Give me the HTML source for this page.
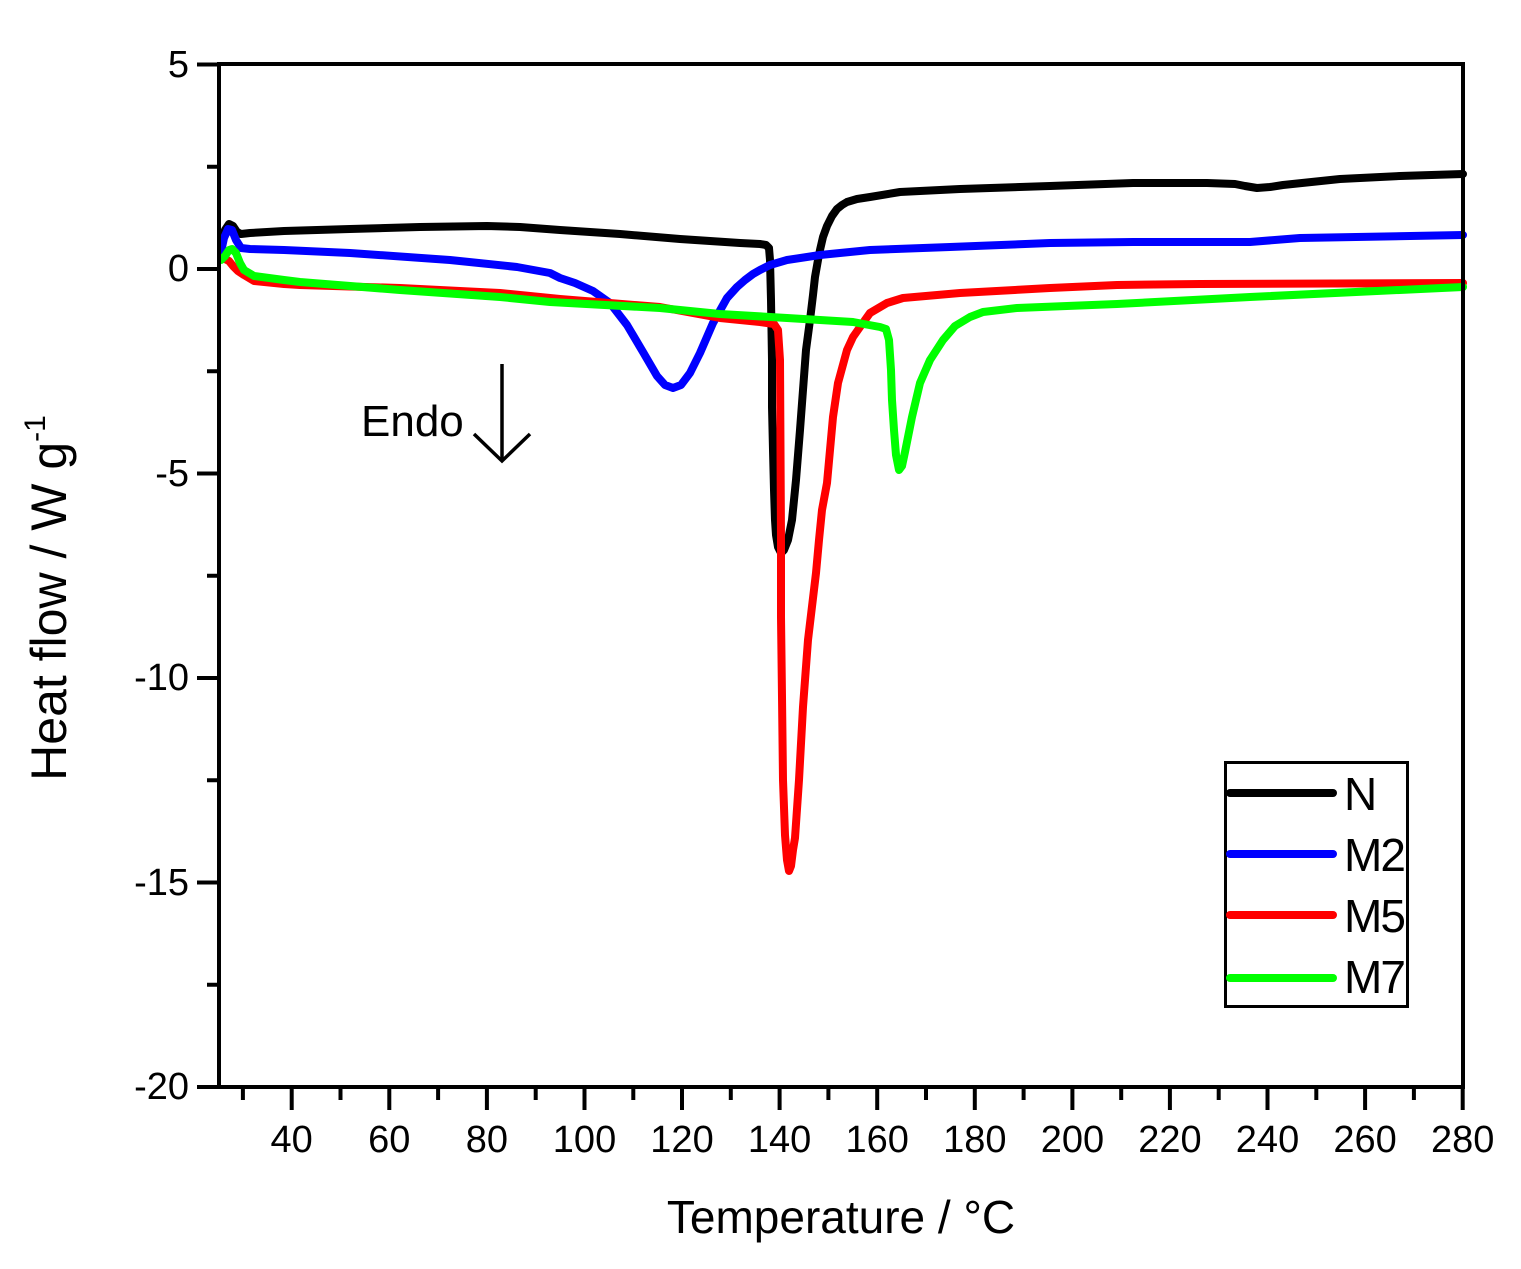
<!DOCTYPE html>
<html>
<head>
<meta charset="utf-8">
<style>
  html, body { margin:0; padding:0; background:#fff; }
  svg { display:block; }
  text { font-family: "Liberation Sans", Arial, sans-serif; fill:#000; }
</style>
</head>
<body>
<svg width="1521" height="1269" viewBox="0 0 1521 1269" xmlns="http://www.w3.org/2000/svg">
  <rect x="0" y="0" width="1521" height="1269" fill="#fff"/>

  <!-- Curves -->
  <g fill="none" stroke-width="8" stroke-linejoin="round" stroke-linecap="round">
    <!-- N black -->
    <polyline stroke="#000" points="221,246 225,230 229,224 233,226 237,232 241,234 250,233 284,231 350,229 420,227 487,226 520,227 560,230 620,234 680,239 740,243 760,244 766,245 769,248 770,260 771,300 772,360 772,407 773,450 774,490 775,520 776,535 778,547 781,553 784,550 788,540 792,520 796,480 800,430 803,390 806,350 810,320 813,295 815,277 818,260 820,250 823,237 827,226 832,216 837,209 842,205 847,202 857,199 870,197 900,192 960,189 1050,186 1133,183 1207,183 1235,184 1245,186 1257,188 1270,187 1283,185 1340,179 1400,176 1463,174"/>
    <!-- M2 blue -->
    <polyline stroke="#0000ff" points="221,252 224,238 228,229 232,230 236,240 241,248 250,249 284,250 350,253 450,260 517,267 550,273 560,278 575,283 593,291 610,303 627,325 643,352 657,376 665,385 673,388 681,385 690,373 700,353 713,323 727,298 737,287 745,280 753,274 760,270 770,265 787,260 820,255 870,250 950,247 1050,243 1133,242 1250,242 1300,238 1463,235"/>
    <!-- M5 red -->
    <polyline stroke="#ff0000" points="221,258 225,259 229,261 233,266 238,271 244,275 254,281 284,284 300,285 400,288 500,293 560,299 660,307 720,318 760,322 774,324 778,330 780,360 781,540 781,617 782,697 783,780 785,835 787,860 789,871 791,866 793,850 795,838 799,780 803,707 808,640 816,573 819,540 822,510 827,483 833,417 838,383 847,350 853,337 860,327 870,313 887,303 903,298 960,293 1050,288 1117,285 1200,284 1463,283"/>
    <!-- M7 green -->
    <polyline stroke="#00ff00" points="221,260 225,256 229,250 232,249 236,253 240,263 244,270 254,276 284,280 300,282 400,290 500,297 550,302 660,308 720,314 787,318 853,322 880,327 886,329 889,340 891,370 892,400 894,430 896,455 899,470 902,466 905,452 912,417 920,383 930,360 943,340 955,326 970,317 983,312 1017,308 1117,304 1250,297 1463,287"/>
  </g>

  <!-- Axes frame -->
  <rect x="219" y="64" width="1244" height="1023" fill="none" stroke="#000" stroke-width="4"/>

  <!-- Y ticks -->
  <g stroke="#000" stroke-width="4">
    <line x1="197" y1="64.5" x2="219" y2="64.5"/>
    <line x1="197" y1="269" x2="219" y2="269"/>
    <line x1="197" y1="473.5" x2="219" y2="473.5"/>
    <line x1="197" y1="678" x2="219" y2="678"/>
    <line x1="197" y1="882.5" x2="219" y2="882.5"/>
    <line x1="197" y1="1087" x2="219" y2="1087"/>
    <line x1="207" y1="166.75" x2="219" y2="166.75"/>
    <line x1="207" y1="371.25" x2="219" y2="371.25"/>
    <line x1="207" y1="575.75" x2="219" y2="575.75"/>
    <line x1="207" y1="780.25" x2="219" y2="780.25"/>
    <line x1="207" y1="984.75" x2="219" y2="984.75"/>
  </g>

  <!-- X ticks -->
  <g stroke="#000" stroke-width="4">
    <line x1="291.7" y1="1087" x2="291.7" y2="1110"/>
    <line x1="389.3" y1="1087" x2="389.3" y2="1110"/>
    <line x1="486.9" y1="1087" x2="486.9" y2="1110"/>
    <line x1="584.5" y1="1087" x2="584.5" y2="1110"/>
    <line x1="682.0" y1="1087" x2="682.0" y2="1110"/>
    <line x1="779.6" y1="1087" x2="779.6" y2="1110"/>
    <line x1="877.2" y1="1087" x2="877.2" y2="1110"/>
    <line x1="974.8" y1="1087" x2="974.8" y2="1110"/>
    <line x1="1072.4" y1="1087" x2="1072.4" y2="1110"/>
    <line x1="1169.9" y1="1087" x2="1169.9" y2="1110"/>
    <line x1="1267.5" y1="1087" x2="1267.5" y2="1110"/>
    <line x1="1365.1" y1="1087" x2="1365.1" y2="1110"/>
    <line x1="1462.7" y1="1087" x2="1462.7" y2="1110"/>
    <line x1="242.9" y1="1087" x2="242.9" y2="1100"/>
    <line x1="340.5" y1="1087" x2="340.5" y2="1100"/>
    <line x1="438.1" y1="1087" x2="438.1" y2="1100"/>
    <line x1="535.7" y1="1087" x2="535.7" y2="1100"/>
    <line x1="633.3" y1="1087" x2="633.3" y2="1100"/>
    <line x1="730.8" y1="1087" x2="730.8" y2="1100"/>
    <line x1="828.4" y1="1087" x2="828.4" y2="1100"/>
    <line x1="926.0" y1="1087" x2="926.0" y2="1100"/>
    <line x1="1023.6" y1="1087" x2="1023.6" y2="1100"/>
    <line x1="1121.2" y1="1087" x2="1121.2" y2="1100"/>
    <line x1="1218.7" y1="1087" x2="1218.7" y2="1100"/>
    <line x1="1316.3" y1="1087" x2="1316.3" y2="1100"/>
    <line x1="1413.9" y1="1087" x2="1413.9" y2="1100"/>
  </g>

  <!-- Y tick labels -->
  <g font-size="38" text-anchor="end">
    <text x="189" y="77">5</text>
    <text x="189" y="281">0</text>
    <text x="189" y="486">-5</text>
    <text x="189" y="690">-10</text>
    <text x="189" y="895">-15</text>
    <text x="189" y="1099">-20</text>
  </g>

  <!-- X tick labels -->
  <g font-size="38" text-anchor="middle">
    <text x="291.7" y="1152">40</text>
    <text x="389.3" y="1152">60</text>
    <text x="486.9" y="1152">80</text>
    <text x="584.5" y="1152">100</text>
    <text x="682.0" y="1152">120</text>
    <text x="779.6" y="1152">140</text>
    <text x="877.2" y="1152">160</text>
    <text x="974.8" y="1152">180</text>
    <text x="1072.4" y="1152">200</text>
    <text x="1169.9" y="1152">220</text>
    <text x="1267.5" y="1152">240</text>
    <text x="1365.1" y="1152">260</text>
    <text x="1462.7" y="1152">280</text>
  </g>

  <!-- Axis titles -->
  <text x="841" y="1233" font-size="46" text-anchor="middle">Temperature / °C</text>
  <text transform="translate(66,598) rotate(-90)" font-size="50" text-anchor="middle">Heat flow / W g<tspan font-size="30" dy="-21">-1</tspan></text>

  <!-- Endo annotation -->
  <text x="361" y="436" font-size="44">Endo</text>
  <g stroke="#000" stroke-width="3.5" fill="none">
    <line x1="502" y1="364" x2="502" y2="460"/>
    <polyline points="474,434 502,461 530,434"/>
  </g>

  <!-- Legend -->
  <rect x="1225.5" y="762.5" width="182" height="244" fill="#fff" stroke="#000" stroke-width="3"/>
  <g stroke-width="8" stroke-linecap="round">
    <line x1="1230" y1="793" x2="1333" y2="793" stroke="#000"/>
    <line x1="1230" y1="854" x2="1333" y2="854" stroke="#0000ff"/>
    <line x1="1230" y1="915" x2="1333" y2="915" stroke="#ff0000"/>
    <line x1="1230" y1="978" x2="1333" y2="978" stroke="#00ff00"/>
  </g>
  <g font-size="46" letter-spacing="-2">
    <text x="1344" y="810">N</text>
    <text x="1344" y="871">M2</text>
    <text x="1344" y="932">M5</text>
    <text x="1344" y="993">M7</text>
  </g>
</svg>
</body>
</html>
